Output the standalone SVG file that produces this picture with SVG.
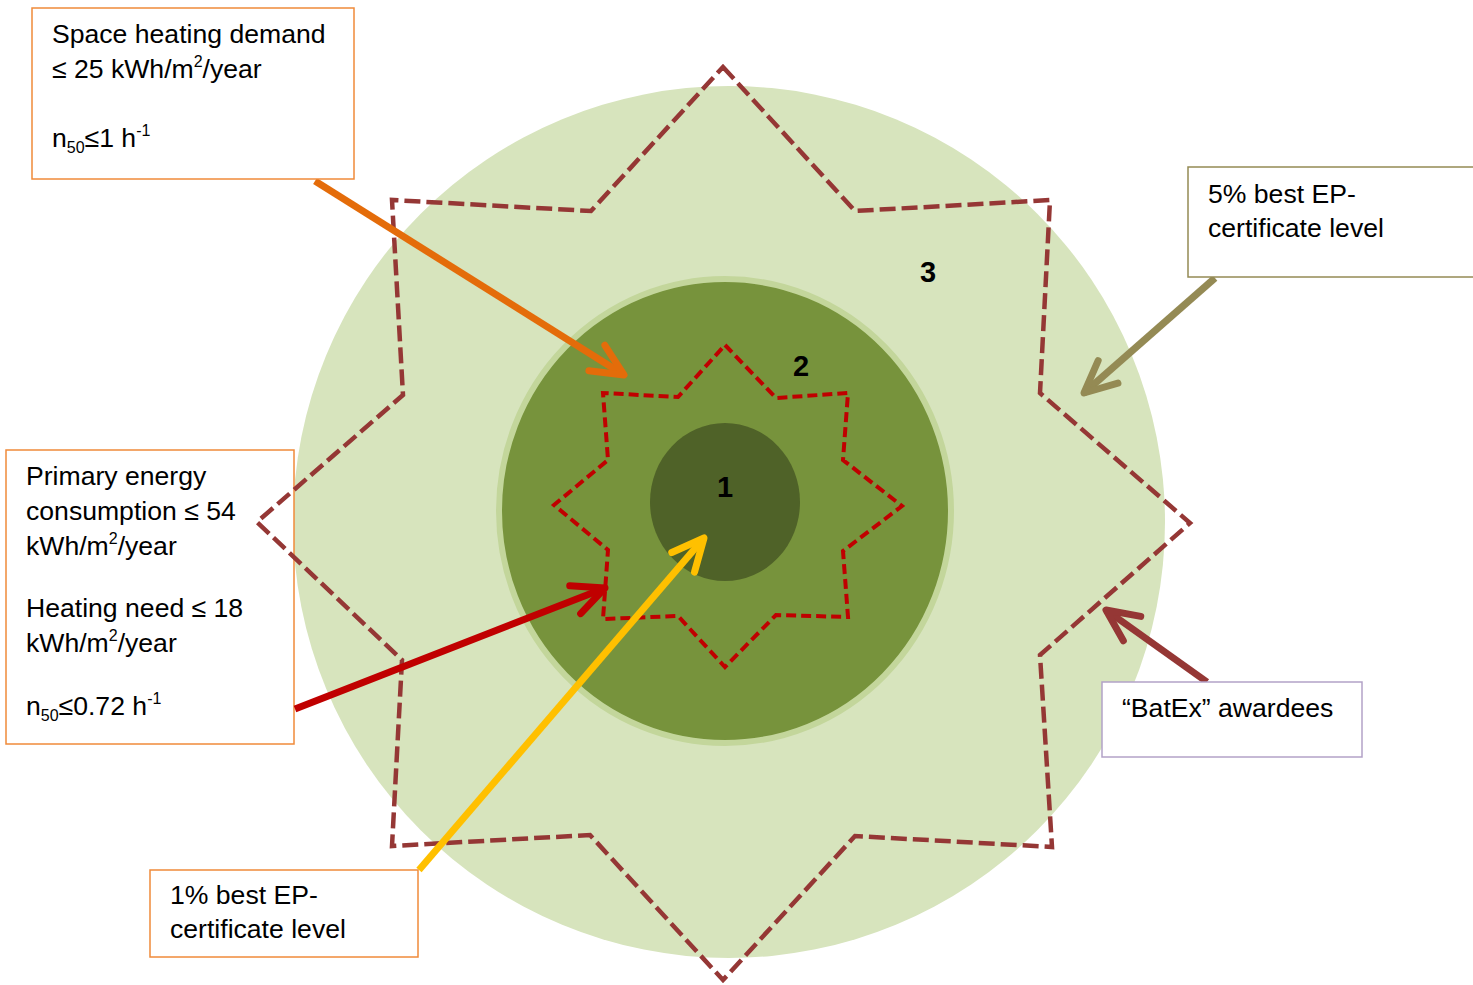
<svg xmlns="http://www.w3.org/2000/svg" width="1473" height="985" viewBox="0 0 1473 985">
<style>
text{font-family:"Liberation Sans",Arial,sans-serif;font-size:26.6px;fill:#000}
.num{font-weight:bold;font-size:29px}
.sup{font-size:16px}
.box{fill:#fff;stroke-width:1.5}
.arr{fill:none;stroke-width:7;stroke-linecap:butt}
.head{fill:none;stroke-width:7;stroke-linecap:round;stroke-linejoin:round}
</style>
<defs>
<marker id="mO" markerUnits="userSpaceOnUse" orient="auto" markerWidth="60" markerHeight="60" refX="0" refY="0" viewBox="-40 -30 50 60" overflow="visible"><path class="head" stroke="#E46C0A" d="M-32,-15 L0,0 L-32,15"/></marker>
<marker id="mR" markerUnits="userSpaceOnUse" orient="auto" markerWidth="60" markerHeight="60" refX="0" refY="0" viewBox="-40 -30 50 60" overflow="visible"><path class="head" stroke="#C00000" d="M-32,-15 L0,0 L-32,15"/></marker>
<marker id="mY" markerUnits="userSpaceOnUse" orient="auto" markerWidth="60" markerHeight="60" refX="0" refY="0" viewBox="-40 -30 50 60" overflow="visible"><path class="head" stroke="#FFC000" d="M-32,-15 L0,0 L-32,15"/></marker>
<marker id="mL" markerUnits="userSpaceOnUse" orient="auto" markerWidth="60" markerHeight="60" refX="0" refY="0" viewBox="-40 -30 50 60" overflow="visible"><path class="head" stroke="#948A54" d="M-32,-15 L0,0 L-32,15"/></marker>
<marker id="mB" markerUnits="userSpaceOnUse" orient="auto" markerWidth="60" markerHeight="60" refX="0" refY="0" viewBox="-40 -30 50 60" overflow="visible"><path class="head" stroke="#953735" d="M-32,-15 L0,0 L-32,15"/></marker>
</defs>
<rect width="1473" height="985" fill="#fff"/>
<g id="zone3">
<circle cx="729" cy="522" r="436" fill="#D7E4BD"/>
<text class="num" x="920" y="282">3</text>
</g>
<g id="zone2">
<ellipse cx="725" cy="511" rx="226" ry="232" fill="#77933C" stroke="#C3D69B" stroke-width="6"/>
<text class="num" x="793" y="376">2</text>
</g>
<g id="zone1">
<ellipse cx="725" cy="502" rx="75" ry="79" fill="#4F6228"/>
<text class="num" x="717" y="497">1</text>
</g>
<g id="box-primary-energy">
<rect class="box" x="6" y="450" width="288" height="294" stroke="#F08A3A"/>
<text x="26" y="485">Primary energy</text>
<text x="26" y="520">consumption ≤ 54</text>
<text x="26" y="555">kWh/m<tspan class="sup" dy="-11">2</tspan><tspan dy="11">/year</tspan></text>
<text x="26" y="617">Heating need ≤ 18</text>
<text x="26" y="652">kWh/m<tspan class="sup" dy="-11">2</tspan><tspan dy="11">/year</tspan></text>
<text x="26" y="715">n<tspan class="sup" dy="6">50</tspan><tspan dy="-6">≤0.72 h</tspan><tspan class="sup" dy="-11">-1</tspan></text>
</g>
<g id="star-outer">
<path d="M723,67 L855,211 L1050,200 L1040,393 L1190,523 L1040,655 L1052,847 L855,836 L723,980 L590,835 L392,846 L402,660 L257,522 L403,395 L392,200 L591,211 Z" fill="none" stroke="#953735" stroke-width="4.5" stroke-dasharray="16 6"/>
</g>
<g id="star-inner">
<path d="M725,345 L776,398 L848,393 L843,460 L902,506 L843,551 L848,617 L776,615 L725,667 L678,616 L603,619 L608,550 L554,505 L608,460 L603,393 L678,397 Z" fill="none" stroke="#C00000" stroke-width="4" stroke-dasharray="10 5"/>
</g>
<g id="connectors">
<line class="arr" stroke="#E46C0A" x1="315" y1="181" x2="624" y2="375" marker-end="url(#mO)"/>
<line class="arr" stroke="#C00000" x1="295" y1="709" x2="605" y2="588" marker-end="url(#mR)"/>
<line class="arr" stroke="#FFC000" x1="419" y1="870" x2="704" y2="538" marker-end="url(#mY)"/>
<line class="arr" stroke="#948A54" x1="1215" y1="278" x2="1084" y2="393" marker-end="url(#mL)"/>
<line class="arr" stroke="#953735" x1="1207" y1="682" x2="1106" y2="610" marker-end="url(#mB)"/>
</g>
<g id="box-space-heating">
<rect class="box" x="32" y="8" width="322" height="171" stroke="#F08A3A"/>
<text x="52" y="43">Space heating demand</text>
<text x="52" y="78">≤ 25 kWh/m<tspan class="sup" dy="-11">2</tspan><tspan dy="11">/year</tspan></text>
<text x="52" y="147">n<tspan class="sup" dy="6">50</tspan><tspan dy="-6">≤1 h</tspan><tspan class="sup" dy="-11">-1</tspan></text>
</g>
<g id="box-1pct">
<rect class="box" x="150" y="870" width="268" height="87" stroke="#F08A3A"/>
<text x="170" y="904">1% best EP-</text>
<text x="170" y="938">certificate level</text>
</g>
<g id="box-5pct">
<rect class="box" x="1188" y="167" width="290" height="110" stroke="#948A54"/>
<text x="1208" y="203">5% best EP-</text>
<text x="1208" y="237">certificate level</text>
</g>
<g id="box-batex">
<rect class="box" x="1102" y="682" width="260" height="75" stroke="#B3A2C7"/>
<text x="1122" y="717">“BatEx” awardees</text>
</g>
</svg>
